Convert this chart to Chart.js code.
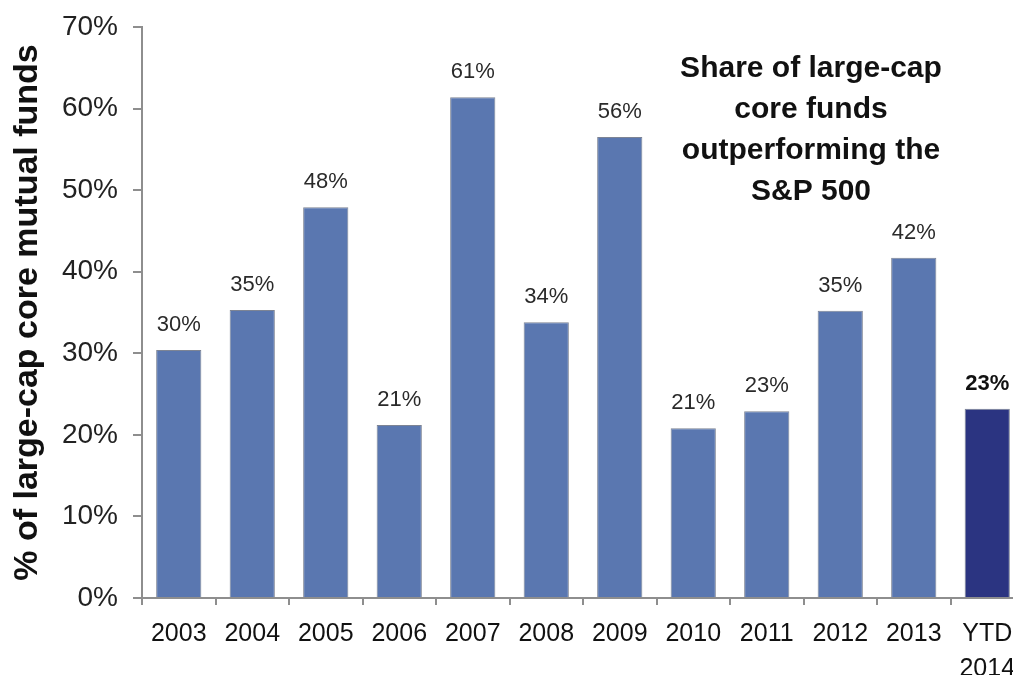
<!DOCTYPE html>
<html>
<head>
<meta charset="utf-8">
<script src="https://cdn.jsdelivr.net/npm/chart.js@4.4.1/dist/chart.umd.min.js"></script>
<style>
  html, body { margin: 0; padding: 0; background: #fff; overflow: hidden; }
  canvas { display: block; }
</style>
</head>
<body>
<canvas id="chart" width="1024" height="675"></canvas>
<script>
// data
const categories = ['2003', '2004', '2005', '2006', '2007', '2008', '2009', '2010', '2011', '2012', '2013', ['YTD', '2014']];
const shareOutperforming = [30.4, 35.3, 47.9, 21.2, 61.4, 33.8, 56.5, 20.8, 22.9, 35.2, 41.7, 23.2];
const valueLabels = ['30%', '35%', '48%', '21%', '61%', '34%', '56%', '21%', '23%', '35%', '42%', '23%'];
const yTicks = [0, 10, 20, 30, 40, 50, 60, 70];
const titleLines = ['Share of large-cap', 'core funds', 'outperforming the', 'S&P 500'];

const sans = '"Liberation Sans", Arial, Helvetica, sans-serif';
const axisGrey = '#8e8e8e';

const barColors = shareOutperforming.map((v, i) => i === shareOutperforming.length - 1 ? '#2b3481' : '#5a77b0');

// value labels above bars
const valueLabelPlugin = {
    id: 'valueLabels',
    afterDatasetsDraw(chart) {
        const ctx = chart.ctx;
        const meta = chart.getDatasetMeta(0);
        ctx.save();
        ctx.textAlign = 'center';
        ctx.textBaseline = 'alphabetic';
        meta.data.forEach((bar, i) => {
            const last = i === meta.data.length - 1;
            ctx.font = (last ? 'bold ' : '') + '22px ' + sans;
            ctx.fillStyle = last ? '#111' : '#2a2a2a';
            ctx.fillText(valueLabels[i], bar.x, bar.y - 19);
        });
        ctx.restore();
    }
};

// the chart title sits inside the plot, top right
const innerTitlePlugin = {
    id: 'innerTitle',
    afterDraw(chart) {
        const ctx = chart.ctx;
        ctx.save();
        ctx.font = 'bold 30px ' + sans;
        ctx.fillStyle = '#111';
        ctx.textAlign = 'center';
        ctx.textBaseline = 'alphabetic';
        titleLines.forEach((line, i) => {
            ctx.fillText(line, 811, 77 + i * 41);
        });
        ctx.restore();
    }
};

new Chart(document.getElementById('chart').getContext('2d'), {
    type: 'bar',
    data: {
        labels: categories,
        datasets: [{
            data: shareOutperforming,
            backgroundColor: barColors,
            borderColor: '#7d8494',
            borderWidth: 1,
            categoryPercentage: 1,
            barPercentage: 0.615
        }]
    },
    options: {
        responsive: false,
        animation: false,
        layout: { padding: { top: 27, right: 0, left: 0, bottom: 0 } },
        plugins: {
            legend: { display: false },
            tooltip: { enabled: false }
        },
        scales: {
            x: {
                grid: { drawOnChartArea: false, tickLength: 7, color: axisGrey, lineWidth: 2 },
                border: { color: axisGrey, width: 2 },
                ticks: {
                    color: '#111',
                    font: { family: sans, size: 25, lineHeight: 1.4 },
                    padding: 12,
                    maxRotation: 0,
                    autoSkip: false
                },
                afterFit(scale) {
                    scale.height = 77;
                    scale.paddingLeft = 0;
                    scale.paddingRight = 0;
                }
            },
            y: {
                min: 0,
                max: 70,
                afterBuildTicks(scale) { scale.ticks = yTicks.map(v => ({ value: v })); },
                grid: { drawOnChartArea: false, tickLength: 9, color: axisGrey, lineWidth: 2 },
                border: { color: axisGrey, width: 2 },
                ticks: {
                    color: '#222',
                    font: { family: sans, size: 28 },
                    padding: 15,
                    callback: v => v + '%'
                },
                title: {
                    display: true,
                    text: '% of large-cap core mutual funds',
                    color: '#111',
                    font: { family: sans, size: 34, weight: 'bold' },
                    padding: { top: 7, bottom: 0 }
                },
                afterFit(scale) {
                    scale.width = 142;
                    scale.paddingTop = 0;
                    scale.paddingBottom = 0;
                }
            }
        }
    },
    plugins: [valueLabelPlugin, innerTitlePlugin]
});
</script>
</body>
</html>
